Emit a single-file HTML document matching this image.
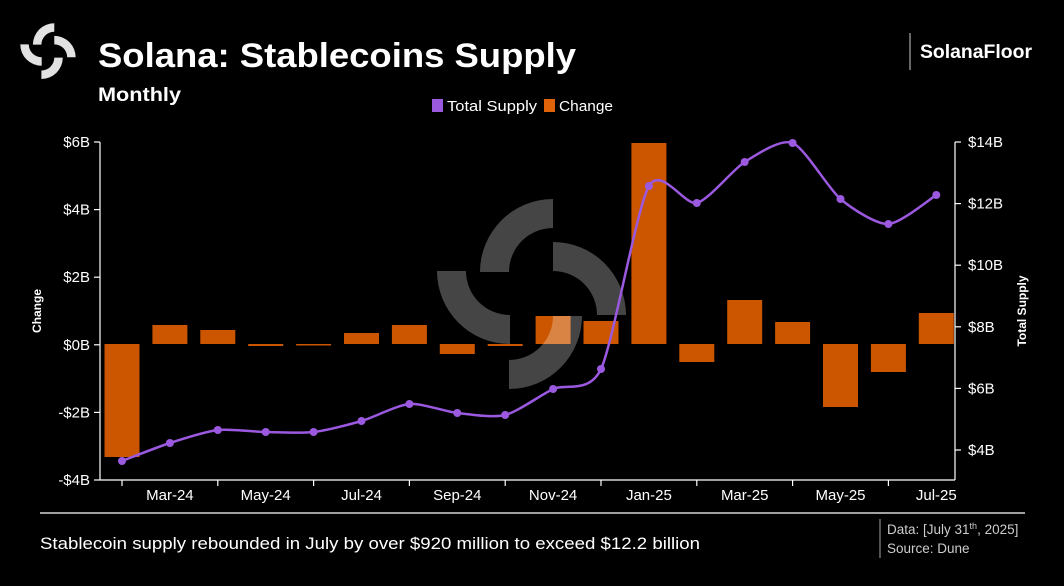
<!DOCTYPE html>
<html><head><meta charset="utf-8"><style>
html,body{margin:0;padding:0;background:#000;width:1064px;height:586px;overflow:hidden}
svg{display:block;font-family:"Liberation Sans",sans-serif}
</style></head><body>
<svg id="s" width="1064" height="586" viewBox="0 0 1064 586">
<defs>
<g id="logo">
<path d="M480,272 A73,73 0 0 1 553,199 L553,228 A44,44 0 0 0 509,272 Z"/>
<path d="M553,242 A73,73 0 0 1 626,315 L597,315 A44,44 0 0 0 553,271 Z"/>
<path d="M437,271 A73,73 0 0 0 510,344 L510,315 A44,44 0 0 1 466,271 Z"/>
<path d="M582,316 A73,73 0 0 1 509,389 L509,360 A44,44 0 0 0 553,316 Z"/>
</g>
</defs>
<rect width="1064" height="586" fill="#000"/>
<g fill="#e2e2e2" transform="translate(20,23) scale(0.293) translate(-436,-198)"><use href="#logo"/></g>
<text x="98" y="67" fill="#fff" font-size="34" font-weight="bold" textLength="478" lengthAdjust="spacingAndGlyphs">Solana: Stablecoins Supply</text>
<text x="98" y="101" fill="#fff" font-size="19" font-weight="bold" textLength="83" lengthAdjust="spacingAndGlyphs">Monthly</text>
<line x1="910" y1="33" x2="910" y2="70" stroke="#888" stroke-width="1.5"/>
<text x="920" y="58" fill="#fff" font-size="19" font-weight="bold" textLength="112" lengthAdjust="spacingAndGlyphs">SolanaFloor</text>
<rect x="432" y="99" width="11" height="13" fill="#9b59e0"/>
<text x="447" y="111" fill="#fff" font-size="15" textLength="90" lengthAdjust="spacingAndGlyphs">Total Supply</text>
<rect x="544" y="99" width="11" height="13" fill="#e0630a"/>
<text x="559" y="111" fill="#fff" font-size="15" textLength="54" lengthAdjust="spacingAndGlyphs">Change</text>
<g id="bars" fill="#cc5500"></g>
<g fill="#fff" opacity="0.27"><use href="#logo"/></g>
<g stroke="#fff" stroke-width="1.2" fill="none">
<line x1="100" y1="142" x2="100" y2="480"/>
<line x1="955" y1="142" x2="955" y2="480"/>
<line x1="100" y1="480" x2="955" y2="480"/>
</g>
<g id="ticks" stroke="#fff" stroke-width="1.2"></g>
<g id="lab" fill="#fff" font-size="15"></g>
<text transform="translate(41,311) rotate(-90)" fill="#fff" font-size="12" font-weight="bold" text-anchor="middle">Change</text>
<text transform="translate(1026,311) rotate(-90)" fill="#fff" font-size="12" font-weight="bold" text-anchor="middle">Total Supply</text>
<path id="ln" fill="none" stroke="#9b59e0" stroke-width="2.5"/>
<g id="dots" fill="#9b59e0"></g>
<line x1="40" y1="513" x2="1025" y2="513" stroke="#fff" stroke-width="1.2"/>
<text x="40" y="549" fill="#fff" font-size="17" textLength="660" lengthAdjust="spacingAndGlyphs">Stablecoin supply rebounded in July by over $920 million to exceed $12.2 billion</text>
<line x1="880" y1="519" x2="880" y2="558" stroke="#888" stroke-width="1.2"/>
<text x="887" y="534" fill="#ccc" font-size="13.5">Data: [July 31<tspan font-size="9" dy="-5">th</tspan><tspan dy="5">, 2025]</tspan></text>
<text x="887" y="553" fill="#ccc" font-size="13.5">Source: Dune</text>
</svg>
<script>
var NS="http://www.w3.org/2000/svg";
function el(p,t,a,txt){var e=document.createElementNS(NS,t);for(var k in a)e.setAttribute(k,a[k]);if(txt)e.textContent=txt;document.getElementById(p).appendChild(e);}
var xs=[],n=18;for(var i=0;i<n;i++)xs.push(122+i*47.9);
var tops=[457,325,330,346,345.5,333,325,354,346,316,321,143,362,300,322,407,372,313];
for(i=0;i<n;i++){var t=tops[i],y0=Math.min(t,344),y1=Math.max(t,344);el("bars","rect",{x:xs[i]-17.5,y:y0,width:35,height:Math.max(y1-y0,1)});}
var L=["$6B","$4B","$2B","$0B","-$2B","-$4B"];
for(i=0;i<6;i++){var y=142+i*67.6;el("ticks","line",{x1:94,x2:100,y1:y,y2:y});el("lab","text",{x:90,y:y+5,"text-anchor":"end"},L[i]);}
var R=["$14B","$12B","$10B","$8B","$6B","$4B"];
for(i=0;i<6;i++){var y=142+i*61.6;el("ticks","line",{x1:955,x2:961,y1:y,y2:y});el("lab","text",{x:968,y:y+5},R[i]);}
var M=["Mar-24","May-24","Jul-24","Sep-24","Nov-24","Jan-25","Mar-25","May-25","Jul-25"];
for(i=0;i<9;i++){var x=xs[2*i+1];el("lab","text",{x:x,y:500,"text-anchor":"middle"},M[i]);var tx=x-47.9;el("ticks","line",{x1:tx,x2:tx,y1:480,y2:486});}
var ly=[461,443,430,432,432,421,404,413,415,389,369,186,203,162,143,199,224,195];
var d="M"+xs[0]+","+ly[0],k=8;
for(i=0;i<n-1;i++){var p0=i?i-1:0,p3=i+2<n?i+2:n-1;
var c1x=xs[i]+(xs[i+1]-xs[p0])/k,c1y=ly[i]+(ly[i+1]-ly[p0])/k,c2x=xs[i+1]-(xs[p3]-xs[i])/k,c2y=ly[i+1]-(ly[p3]-ly[i])/k;
d+=" C"+c1x+","+c1y+" "+c2x+","+c2y+" "+xs[i+1]+","+ly[i+1];}
document.getElementById("ln").setAttribute("d",d);
for(i=0;i<n;i++)el("dots","circle",{cx:xs[i],cy:ly[i],r:4});
</script>
</body></html>
